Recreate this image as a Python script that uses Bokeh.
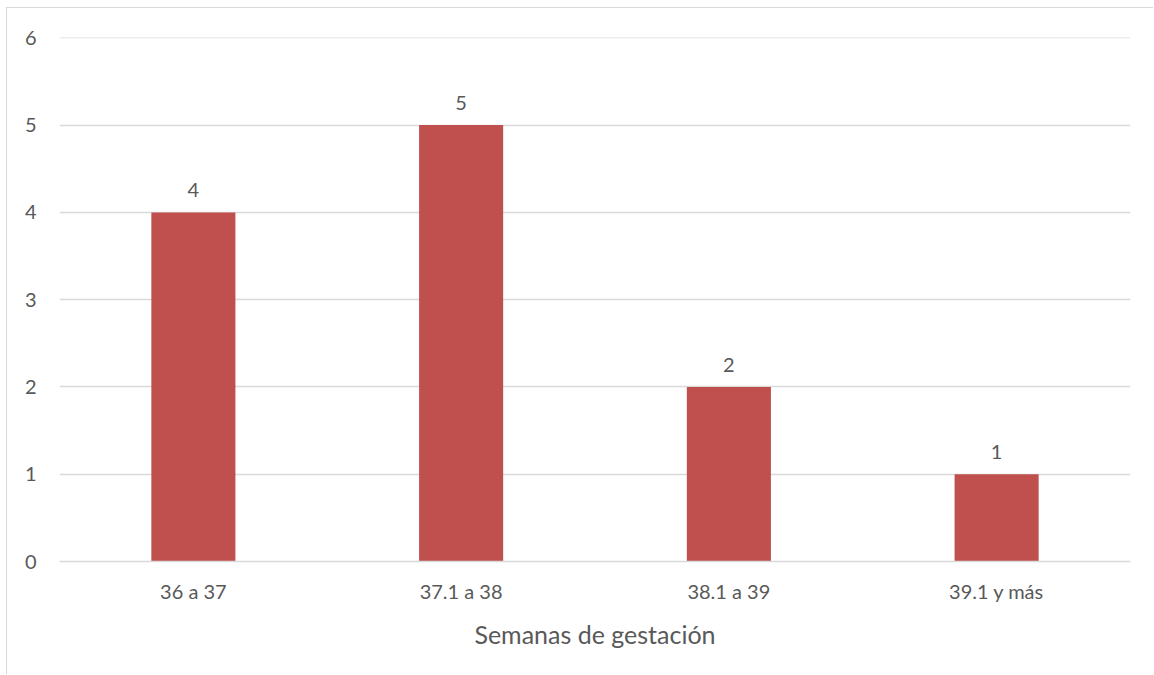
from bokeh.plotting import figure
from bokeh.models import ColumnDataSource, Range1d, FactorRange, FixedTicker
from bokeh.embed import file_html
from bokeh.resources import INLINE
from bokeh.core.properties import value

# Number of births per gestational age band
categories = ["36 a 37", "37.1 a 38", "38.1 a 39", "39.1 y más"]
counts = [4, 5, 2, 1]
y_ticks = [0, 1, 2, 3, 4, 5, 6]
x_title = "Semanas de gestación"

FONT = "Lato"
TEXT = "#595959"
GRID = "#d9d9d9"
BAR = "#c0504d"

source = ColumnDataSource(dict(cat=categories, n=counts, lbl=[str(c) for c in counts]))

p = figure(
    x_range=FactorRange(*categories, range_padding=0),
    y_range=Range1d(0, 6.004),
    width=1147, height=667,
    output_backend="svg", toolbar_location=None,
    min_border_left=52, min_border_right=24,
    min_border_top=29, min_border_bottom=114,
)
p.styles = {
    "margin-left": "6px", "margin-top": "7px",
    "border-left": "1px solid #d9d9d9", "border-top": "1px solid #d9d9d9",
}
p.outline_line_color = None
p.background_fill_color = "white"

p.vbar(x="cat", top="n", width=0.314, source=source, color=BAR, line_color=None)
p.text(x="cat", y="n", text="lbl", source=source, y_offset=-15,
       text_align="center", text_baseline="bottom",
       text_font=value(FONT), text_font_size="20px", text_color=TEXT)

# y axis
p.yaxis.ticker = FixedTicker(ticks=y_ticks)
p.yaxis.axis_line_color = None
p.yaxis.major_tick_line_color = None
p.yaxis.minor_tick_line_color = None
p.yaxis.major_label_text_font = FONT
p.yaxis.major_label_text_font_size = "20px"
p.yaxis.major_label_text_color = TEXT
p.yaxis.major_label_standoff = 17

# x axis
p.xaxis.axis_line_color = GRID
p.xaxis.axis_line_width = 1.5
p.xaxis.major_tick_line_color = None
p.xaxis.minor_tick_line_color = None
p.xaxis.major_label_text_font = FONT
p.xaxis.major_label_text_font_size = "20px"
p.xaxis.major_label_text_color = TEXT
p.xaxis.major_label_standoff = 11
p.xaxis.axis_label = x_title
p.xaxis.axis_label_text_font = FONT
p.xaxis.axis_label_text_font_size = "25px"
p.xaxis.axis_label_text_font_style = "normal"
p.xaxis.axis_label_text_color = TEXT
p.xaxis.axis_label_standoff = 13

p.xgrid.grid_line_color = None
p.ygrid.grid_line_color = GRID
p.ygrid.grid_line_width = 1.5

open("out.html", "w").write(file_html(p, INLINE))
